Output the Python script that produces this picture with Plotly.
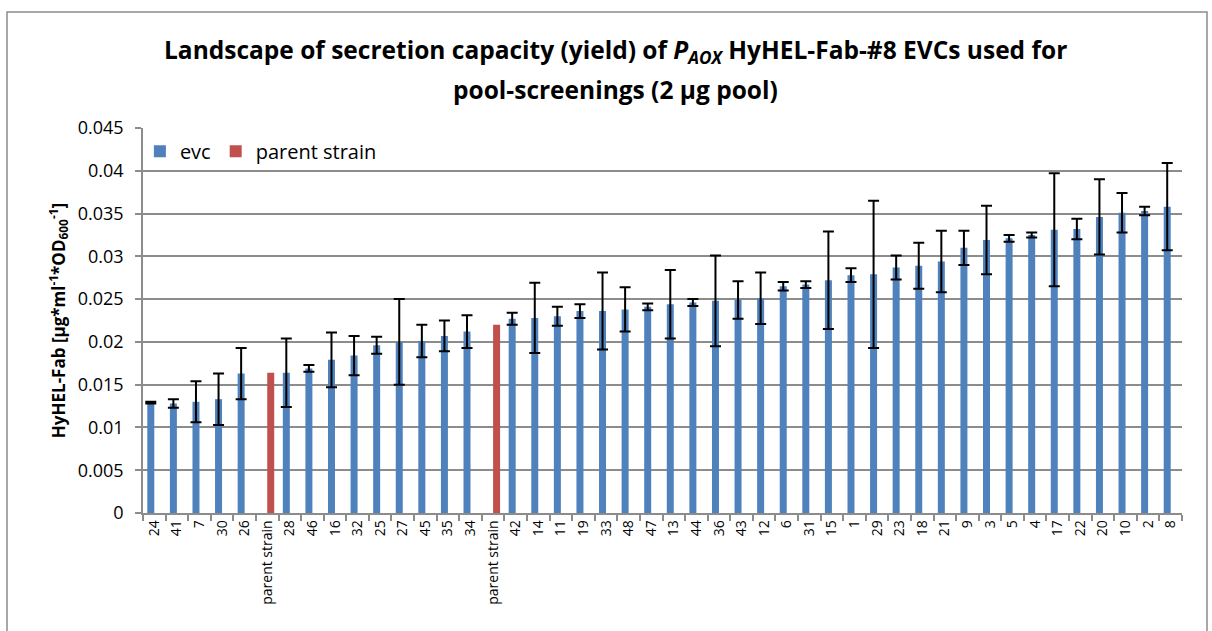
import plotly.graph_objects as go

# Strain labels in plotted order (two parent-strain controls inside the series)
categories = ["24", "41", "7", "30", "26", "parent strain", "28", "46", "16", "32",
              "25", "27", "45", "35", "34", "parent strain", "42", "14", "11", "19",
              "33", "48", "47", "13", "44", "36", "43", "12", "6", "31",
              "15", "1", "29", "23", "18", "21", "9", "3", "5", "4",
              "17", "22", "20", "10", "2", "8"]

# evc yields (None where the parent strain sits) and their standard deviations
evc_yield = [0.0129, 0.0128, 0.0130, 0.0133, 0.0163, None, 0.0164, 0.0169, 0.0179, 0.0184,
             0.0196, 0.0200, 0.0201, 0.0207, 0.0212, None, 0.0227, 0.0228, 0.0230, 0.0236,
             0.0236, 0.0238, 0.0241, 0.0244, 0.0246, 0.0248, 0.0249, 0.0251, 0.0265, 0.0267,
             0.0272, 0.0278, 0.0279, 0.0287, 0.0289, 0.0294, 0.0310, 0.0319, 0.0321, 0.0325,
             0.0331, 0.0332, 0.0346, 0.0351, 0.0353, 0.0358]
evc_sd = [0.0001, 0.0005, 0.0024, 0.0030, 0.0030, None, 0.0040, 0.0004, 0.0032, 0.0023,
          0.0010, 0.0050, 0.0019, 0.0018, 0.0019, None, 0.0007, 0.0041, 0.0011, 0.0008,
          0.0045, 0.0026, 0.0004, 0.0040, 0.0004, 0.0053, 0.0022, 0.0030, 0.0005, 0.0004,
          0.0057, 0.0008, 0.0086, 0.0014, 0.0027, 0.0036, 0.0020, 0.0040, 0.0004, 0.0003,
          0.0066, 0.0012, 0.0044, 0.0023, 0.0005, 0.0051]

# Parent strain yields (None at evc positions)
parent_yield = [None] * 46
parent_yield[5] = 0.0164
parent_yield[15] = 0.0220

y_ticks = [0, 0.005, 0.01, 0.015, 0.02, 0.025, 0.03, 0.035, 0.04, 0.045]
y_tick_text = ["0", "0.005", "0.01", "0.015", "0.02", "0.025", "0.03", "0.035", "0.04", "0.045"]

x_pos = list(range(len(categories)))
BLUE = "#4F81BD"
RED = "#C0504D"
GRID = "#8C8C8C"
FONT = "Open Sans"

fig = go.Figure()
fig.add_trace(go.Bar(
    x=x_pos, y=evc_yield, name="evc", marker=dict(color=BLUE, line=dict(width=0)),
    error_y=dict(type="data", array=evc_sd, visible=True, color="black",
                 thickness=2, width=5.5),
))
fig.add_trace(go.Bar(
    x=x_pos, y=parent_yield, name="parent strain",
    marker=dict(color=RED, line=dict(width=0)),
))

fig.update_layout(
    width=1212, height=631,
    margin=dict(l=143, r=30, t=128, b=118),
    paper_bgcolor="white", plot_bgcolor="white",
    barmode="group", bargap=0.38, bargroupgap=0,
    font=dict(family=FONT, color="black"),
    showlegend=True,
    legend=dict(orientation="h", x=-0.003, y=0.99, xanchor="left", yanchor="top",
                font=dict(size=20, family=FONT), bgcolor="rgba(0,0,0,0)",
                itemwidth=30, tracegroupgap=0),
    xaxis=dict(
        range=[-0.5, len(categories) - 0.5],
        tickmode="array", tickvals=x_pos, ticktext=categories,
        tickangle=-90, tickfont=dict(size=14, family=FONT),
        ticks="", showgrid=False, zeroline=False,
        showline=True, linecolor=GRID, linewidth=1.5,
        # tick marks between categories
        minor=dict(tickmode="array", tickvals=[i - 0.5 for i in range(len(categories) + 1)],
                   ticks="outside", ticklen=6, tickcolor=GRID, tickwidth=1.5, showgrid=False),
    ),
    yaxis=dict(
        range=[0, 0.045],
        tickmode="array", tickvals=y_ticks, ticktext=y_tick_text,
        tickfont=dict(size=18, family=FONT),
        ticks="outside", ticklen=6, tickcolor=GRID, tickwidth=1.5,
        ticklabelstandoff=8,
        showgrid=True, gridcolor=GRID, gridwidth=1.5,
        zeroline=False, showline=True, linecolor=GRID, linewidth=1.5,
        title=dict(text="<b>HyHEL-Fab [µg*ml<sup>-1</sup>*OD<sub>600</sub><sup>-1</sup>]</b>",
                   font=dict(size=17, family=FONT), standoff=8),
    ),
)

# two-line chart title
fig.add_annotation(
    text="<b>Landscape of secretion capacity (yield) of <i>P</i><sub><i>AOX</i></sub> HyHEL-Fab-#8 EVCs used for</b>",
    xref="paper", yref="paper", x=0.455, y=(513 - 51) / 385, xanchor="center", yanchor="middle",
    showarrow=False, font=dict(size=24.5, family=FONT),
)
fig.add_annotation(
    text="<b>pool-screenings (2 µg pool)</b>",
    xref="paper", yref="paper", x=0.455, y=(513 - 89) / 385, xanchor="center", yanchor="middle",
    showarrow=False, font=dict(size=24.5, family=FONT),
)

# chart-area border
fig.add_shape(type="rect", xref="paper", yref="paper",
              x0=(7 - 143) / 1039, x1=(1207 - 143) / 1039,
              y0=(513 - 700) / 385, y1=(513 - 12) / 385,
              line=dict(color="#8C8C8C", width=1.5), fillcolor="rgba(0,0,0,0)", layer="below")

fig.write_html("out.html")
